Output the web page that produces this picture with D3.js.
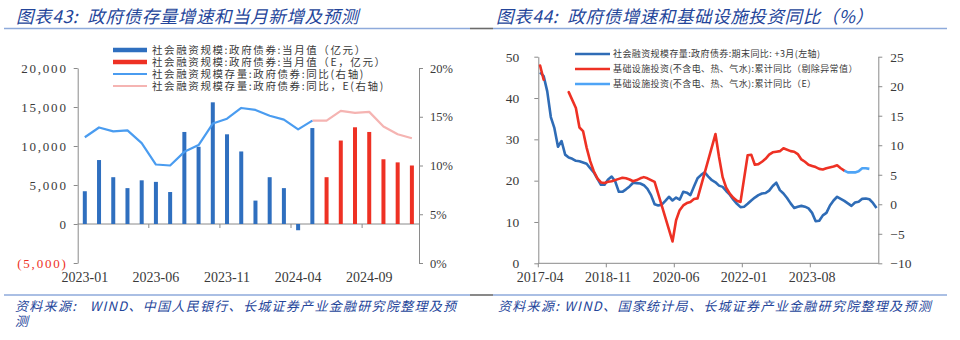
<!DOCTYPE html>
<html><head><meta charset="utf-8">
<script src="https://cdn.jsdelivr.net/npm/d3@7"></script>
<style>
body{margin:0;background:#fff;}
svg{display:block;}
</style></head><body>
<svg id="c" width="960" height="340"></svg>
<script>
// ---------------- DATA: left chart (图表43) ----------------
const leftMonths = ["2023-01","2023-02","2023-03","2023-04","2023-05","2023-06","2023-07","2023-08","2023-09","2023-10","2023-11","2023-12",
                    "2024-01","2024-02","2024-03","2024-04","2024-05","2024-06","2024-07","2024-08","2024-09","2024-10","2024-11","2024-12"];
const leftTickMonths = ["2023-01","2023-06","2023-11","2024-04","2024-09"];
// 社会融资规模:政府债券:当月值（亿元）
const govBondMonthly  = [4200, 8200, 6000, 4600, 5600, 5400, 4100, 11800, 9900, 15600, 11500, 9300, 3000, 6000, 4600, -800, 12300, null, null, null, null, null, null, null];
// 社会融资规模:政府债券:当月值（E，亿元）
const govBondMonthlyE = [null, null, null, null, null, null, null, null, null, null, null, null, null, null, null, null, null, 6000, 10700, 12400, 11800, 8300, 7900, 7500];
// 社会融资规模存量:政府债券:同比（%）
const govBondStockYoY  = [12.9, 13.9, 13.5, 13.6, 12.3, 10.1, 10.0, 11.4, 12.1, 14.3, 14.8, 15.9, 15.7, 15.1, 14.7, 13.7, 14.6, null, null, null, null, null, null, null];
const govBondStockYoYE = [null, null, null, null, null, null, null, null, null, null, null, null, null, null, null, null, 14.6, 14.6, 15.6, 15.4, 15.5, 14.0, 13.2, 12.8];
const leftAxisTicks  = [-5000, 0, 5000, 10000, 15000, 20000];
const rightAxisTicks = [0, 5, 10, 15, 20];

// ---------------- DATA: right chart (图表44) ----------------
const rStart = "2017-04", rEnd = "2025-02";
const rTickMonths = ["2017-04","2018-11","2020-06","2022-01","2023-08"];
// 社会融资规模存量:政府债券:期末同比: +3月（左轴）
const govStockLead3 = [46.2, 45.3, 41.6, 35.4, 32.7, 28.2, 29.6, 26.3, 25.6, 25.3,
  24.8, 24.7, 24.4, 24.1, 23.0, 22.0, 20.5, 19.0, 19.0, 20.3,
  21.0, 19.8, 17.3, 17.3, 17.9, 18.6, 19.5, 19.4, 19.3, 18.9,
  18.0, 16.5, 14.3, 14.0, 14.2, 15.1, 16.1, 15.2, 15.9, 15.4,
  17.3, 17.1, 16.5, 18.6, 20.6, 21.4, 22.0, 21.0, 20.1, 19.6,
  18.8, 18.5, 17.5, 16.6, 15.4, 14.4, 13.6, 13.7, 14.4, 15.2,
  15.9, 16.5, 16.9, 17.0, 17.6, 18.7, 19.5, 17.7, 16.9, 15.8,
  14.5, 13.4, 13.7, 13.9, 13.7, 13.3, 12.2, 10.2, 10.3, 11.6,
  12.2, 14.0, 15.2, 16.1, 15.6, 15.1, 14.5, 13.9, 14.7, 14.9,
  15.6, 15.7, 15.5, 14.6, 13.4];
// 基础设施投资(不含电、热、气水):累计同比（剔除异常值）— null = no value (line joins across)
const infraYoY = [23.5, 21.1, null, null, null, null, null, null, 19.0, null,
  16.3, 13.0, 12.4, 9.6, 7.3, 5.6, 4.4, 3.7, 3.6, 3.8,
  3.9, null, 4.3, 4.5, 4.4, 4.2, 3.9, 4.1, 4.4, 4.6,
  4.4, 4.1, 3.8, null, null, null, null, -6.3, -2.7, -1.0,
  -0.2, 0.2, 0.4, 0.9, 1.0, null, null, null, null, 11.9,
  8.0, 4.6, 2.8, 1.8, 1.1, 0.6, 0.4, null, 8.3, 8.4,
  6.7, 6.8, 7.2, 7.7, 8.4, 8.8, 8.9, 9.0, 9.5, null,
  9.0, 8.9, 8.5, 7.6, 7.2, 6.7, 6.5, 6.3, 6.0, 5.9,
  6.1, null, 6.4, 6.6, 6.1, 5.7];
const infraBreakAfter = ["2017-05"];   // the line is broken after this month
// 基础设施投资(不含电、热、气水):累计同比（E），from 2024-05
const infraYoYEStart = "2024-05";
const infraYoYE = [5.7, 5.4, 5.4, 5.4, 5.6, 6.1, 6.1, 6.0];
const rLeftTicks  = [0, 10, 20, 30, 40, 50];
const rRightTicks = [-10, -5, 0, 5, 10, 15, 20, 25];

// ---------------- STYLE ----------------
const CJK = "'Noto Sans CJK SC','Noto Sans',sans-serif";
const NUM = "'Liberation Serif','DejaVu Serif',serif";
const AXIS = "#8a8a8a", TXT = "#3a3a3a";
const BAR_BLUE = "#2f6fbf", RED = "#ee3124", LBLUE = "#4a9cf0", PINK = "#f5b4b2";
const DBLUE = "#2f6cb6", EBLUE = "#4ea4f6";
const TITLE = "#24459a", RULE = "#8eaadb";

const svg = d3.select("#c");

// ---------------- headers / footers ----------------
function rule(y) {
  svg.append("line").attr("x1", 4).attr("x2", 470).attr("y1", y).attr("y2", y).attr("stroke", RULE).attr("stroke-width", 1.6);
  svg.append("line").attr("x1", 470).attr("x2", 493).attr("y1", y).attr("y2", y).attr("stroke", "#6b6b6b").attr("stroke-width", 1.6);
  svg.append("line").attr("x1", 493).attr("x2", 947).attr("y1", y).attr("y2", y).attr("stroke", RULE).attr("stroke-width", 1.6);
}
rule(28.5); rule(295);
function title(x, t) {
  svg.append("text").attr("x", x).attr("y", 23).text(t)
    .attr("font-family", CJK).attr("font-size", 17.5).attr("font-style", "italic")
    .attr("letter-spacing", 0.6).attr("fill", TITLE).attr("xml:space", "preserve");
}
title(16, "图表43:  政府债存量增速和当月新增及预测");
title(496, "图表44:  政府债增速和基础设施投资同比（%）");
function source(x, y, t, ls) {
  svg.append("text").attr("x", x).attr("y", y).text(t)
    .attr("font-family", CJK).attr("font-size", 13).attr("font-style", "italic")
    .attr("letter-spacing", ls).attr("fill", TITLE).attr("xml:space", "preserve");
}
source(15, 311, "资料来源:   WIND、中国人民银行、长城证券产业金融研究院整理及预", 1.3);
source(15, 326, "测", 1.3);
source(498, 311, "资料来源: WIND、国家统计局、长城证券产业金融研究院整理及预测", 1.3);

function styleAxis(g, size) {
  g.select(".domain").attr("stroke", AXIS);
  g.selectAll(".tick line").attr("stroke", AXIS);
  g.selectAll(".tick text").attr("font-family", NUM).attr("font-size", size).attr("fill", TXT);
}

// ---------------- LEFT CHART ----------------
{
  const x0 = 77.7, x1 = 419, yTop = 68, yBot = 263;
  const x = d3.scaleBand().domain(leftMonths).range([x0, x1]);
  const y = d3.scaleLinear().domain([-5000, 20000]).range([yBot, yTop]);
  const yR = d3.scaleLinear().domain([0, 20]).range([yBot, yTop]);
  const fmt = v => v < 0 ? "(" + d3.format(",")(-v) + ")" : d3.format(",")(v);

  const gl = svg.append("g").attr("transform", `translate(${x0},0)`)
    .call(d3.axisLeft(y).tickValues(leftAxisTicks).tickFormat(fmt).tickSize(4).tickPadding(6).tickSizeOuter(0));
  styleAxis(gl, 13);
  gl.selectAll(".tick text").attr("letter-spacing", 1.8).attr("fill", d => d < 0 ? RED : TXT);

  const gr = svg.append("g").attr("transform", `translate(${x1},0)`)
    .call(d3.axisRight(yR).tickValues(rightAxisTicks).tickFormat(d => d + "%").tickSize(4).tickPadding(7).tickSizeOuter(0));
  styleAxis(gr, 12.5);

  // category labels
  const gx = svg.append("g").attr("transform", `translate(0,${yBot})`)
    .call(d3.axisBottom(x).tickValues(leftTickMonths).tickSize(0).tickPadding(9));
  gx.select(".domain").remove();
  styleAxis(gx, 14);

  // zero line with boundary ticks
  const y0 = y(0);
  svg.append("line").attr("x1", x0).attr("x2", x1).attr("y1", y0).attr("y2", y0).attr("stroke", AXIS);
  svg.selectAll(".lbt").data(leftTickMonths.slice(1)).enter().append("line")
    .attr("x1", d => x(d)).attr("x2", d => x(d)).attr("y1", y0).attr("y2", y0 + 4).attr("stroke", AXIS);

  const bw = 4;
  function bars(vals, color) {
    svg.append("g").selectAll("rect").data(leftMonths.map((m, i) => ({m, v: vals[i]})).filter(d => d.v != null))
      .enter().append("rect")
      .attr("x", d => x(d.m) + x.bandwidth() / 2 - bw / 2)
      .attr("width", bw)
      .attr("y", d => Math.min(y(d.v), y0))
      .attr("height", d => Math.abs(y(d.v) - y0))
      .attr("fill", color);
  }
  bars(govBondMonthly, BAR_BLUE);
  bars(govBondMonthlyE, RED);

  function line(vals, color) {
    const ln = d3.line().defined(d => d.v != null).x(d => x(d.m) + x.bandwidth() / 2).y(d => yR(d.v));
    svg.append("path").datum(leftMonths.map((m, i) => ({m, v: vals[i]})))
      .attr("d", ln).attr("fill", "none").attr("stroke", color).attr("stroke-width", 2.2).attr("stroke-linejoin", "round");
  }
  line(govBondStockYoYE, PINK);
  line(govBondStockYoY, LBLUE);

  // legend
  const leg = [
    {label: "社会融资规模:政府债券:当月值（亿元）", color: BAR_BLUE, w: 4.5},
    {label: "社会融资规模:政府债券:当月值（E，亿元）", color: RED, w: 4.5},
    {label: "社会融资规模存量:政府债券:同比(右轴)", color: LBLUE, w: 2.2},
    {label: "社会融资规模存量:政府债券:同比，E(右轴)", color: PINK, w: 2.2}
  ];
  const lg = svg.append("g");
  leg.forEach((d, i) => {
    const yy = 50 + i * 12;
    lg.append("line").attr("x1", 113).attr("x2", 147).attr("y1", yy).attr("y2", yy).attr("stroke", d.color).attr("stroke-width", d.w);
    lg.append("text").attr("x", 152).attr("y", yy + 3.8).text(d.label)
      .attr("font-family", CJK).attr("font-size", 10.5).attr("letter-spacing", 1.6).attr("fill", TXT);
  });
}

// ---------------- RIGHT CHART ----------------
{
  const x0 = 538.3, x1 = 878.3, yTop = 56.7, yBot = 263.3;
  const pm = d3.utcParse("%Y-%m"), fm = d3.utcFormat("%Y-%m");
  const months = d3.utcMonth.range(pm(rStart), d3.utcMonth.offset(pm(rEnd), 1)).map(fm);
  const x = d3.scaleBand().domain(months).range([x0, x1]);
  const cx = m => x(m) + x.bandwidth() / 2;
  const yL = d3.scaleLinear().domain([0, 50]).range([yBot, yTop]);
  const yR = d3.scaleLinear().domain([-10, 25]).range([yBot, yTop]);

  const gl = svg.append("g").attr("transform", `translate(${x0},0)`)
    .call(d3.axisLeft(yL).tickValues(rLeftTicks).tickSize(4).tickPadding(15).tickSizeOuter(0));
  styleAxis(gl, 13.5);
  const gr = svg.append("g").attr("transform", `translate(${x1},0)`)
    .call(d3.axisRight(yR).tickValues(rRightTicks).tickSize(4).tickPadding(8).tickSizeOuter(0)
      .tickFormat(d => d < 0 ? "\u2212" + Math.abs(d) : d));
  styleAxis(gr, 13.5);

  const gx = svg.append("g").attr("transform", `translate(0,${yBot})`)
    .call(d3.axisBottom(x).tickValues(rTickMonths).tickSize(0).tickPadding(9));
  gx.select(".domain").remove();
  styleAxis(gx, 14);
  svg.append("line").attr("x1", x0).attr("x2", x1).attr("y1", yBot).attr("y2", yBot).attr("stroke", AXIS);
  svg.selectAll(".rbt").data(rTickMonths).enter().append("line")
    .attr("x1", d => x(d)).attr("x2", d => x(d)).attr("y1", yBot).attr("y2", yBot + 4).attr("stroke", AXIS);

  // blue: gov bond stock yoy (+3m lead)
  const lnL = d3.line().x(d => cx(d.m)).y(d => yL(d.v));
  svg.append("path").datum(govStockLead3.map((v, i) => ({m: months[i], v})))
    .attr("d", lnL).attr("fill", "none").attr("stroke", DBLUE).attr("stroke-width", 2.6).attr("stroke-linejoin", "round");

  // red: infra yoy, joined across missing months, broken after listed months
  const pts = infraYoY.map((v, i) => ({m: months[i], v})).filter(d => d.v != null);
  const segs = [];
  let cur = [];
  pts.forEach(p => {
    cur.push(p);
    if (infraBreakAfter.includes(p.m)) { segs.push(cur); cur = []; }
  });
  if (cur.length) segs.push(cur);
  const lnR = d3.line().x(d => cx(d.m)).y(d => yR(d.v));
  segs.forEach(s => svg.append("path").datum(s).attr("d", lnR).attr("fill", "none")
    .attr("stroke", RED).attr("stroke-width", 2.6).attr("stroke-linejoin", "round").attr("stroke-linecap", "round"));

  const e0 = months.indexOf(infraYoYEStart);
  svg.append("path").datum(infraYoYE.map((v, i) => ({m: months[e0 + i], v})))
    .attr("d", lnR).attr("fill", "none").attr("stroke", EBLUE).attr("stroke-width", 2.6).attr("stroke-linejoin", "round");

  const leg = [
    {label: "社会融资规模存量:政府债券:期末同比: +3月(左轴)", color: DBLUE},
    {label: "基础设施投资(不含电、热、气水):累计同比（剔除异常值）", color: RED},
    {label: "基础设施投资(不含电、热、气水):累计同比（E）", color: EBLUE}
  ];
  const lg = svg.append("g");
  leg.forEach((d, i) => {
    const yy = 54 + i * 15;
    lg.append("line").attr("x1", 575).attr("x2", 610).attr("y1", yy).attr("y2", yy).attr("stroke", d.color).attr("stroke-width", 2.6);
    lg.append("text").attr("x", 613).attr("y", yy + 3.3).text(d.label)
      .attr("font-family", CJK).attr("font-size", 9).attr("letter-spacing", 0.4).attr("fill", TXT)
      .attr("xml:space", "preserve");
  });
}
</script>
</body></html>
